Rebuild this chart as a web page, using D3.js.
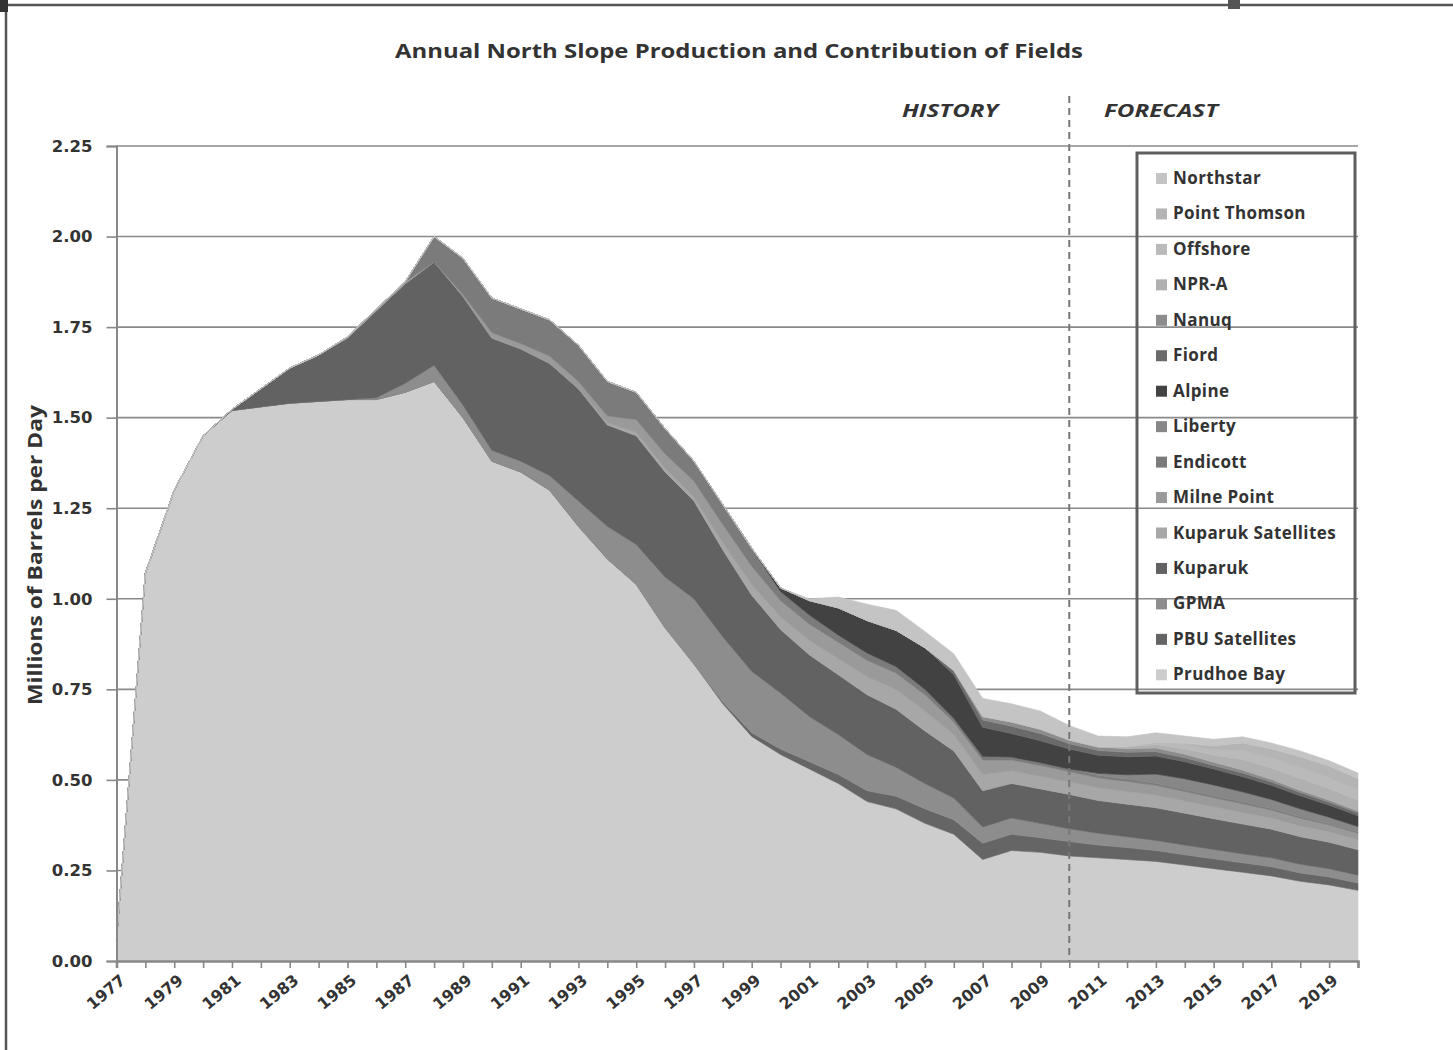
<!DOCTYPE html>
<html>
<head>
<meta charset="utf-8">
<script src="https://cdn.jsdelivr.net/npm/d3@7"></script>
<style>
  html, body { margin: 0; padding: 0; background: #fff; }
  svg { display: block; }
</style>
</head>
<body>
<svg id="chart" width="1453" height="1050"></svg>
<script>
// ---------------- DATA ----------------
const years = d3.range(1977, 2021);

const yTicks = [0, 0.25, 0.5, 0.75, 1.0, 1.25, 1.5, 1.75, 2.0, 2.25];

// series, bottom of stack first (values in millions of barrels per day)
const prudhoeBay = [0.06,1.07,1.30,1.45,1.52,1.53,1.54,1.545,1.55,1.55,1.57,1.60,1.50,1.38,1.35,1.30,1.20,1.11,1.04,0.92,0.82,0.71,0.62,0.57,0.53,0.49,0.44,0.42,0.38,0.35,0.28,0.305,0.30,0.29,0.285,0.28,0.275,0.265,0.255,0.245,0.235,0.22,0.21,0.195];
const pbuSatellites = [0,0,0,0,0,0,0,0,0,0,0,0,0,0,0,0,0,0,0,0,0,0.005,0.01,0.015,0.02,0.025,0.03,0.035,0.04,0.04,0.045,0.045,0.04,0.04,0.035,0.033,0.03,0.028,0.027,0.026,0.025,0.023,0.022,0.02];
const gpma = [0,0,0,0,0,0,0,0,0,0.005,0.025,0.045,0.035,0.03,0.03,0.04,0.07,0.09,0.11,0.14,0.18,0.18,0.17,0.155,0.125,0.11,0.10,0.08,0.07,0.06,0.045,0.045,0.04,0.035,0.033,0.03,0.028,0.027,0.026,0.025,0.025,0.024,0.023,0.022];
const kuparuk = [0,0,0,0,0.003,0.05,0.097,0.128,0.17,0.24,0.275,0.285,0.30,0.31,0.31,0.31,0.31,0.28,0.30,0.29,0.27,0.24,0.21,0.175,0.17,0.165,0.165,0.16,0.145,0.13,0.10,0.095,0.095,0.095,0.09,0.09,0.09,0.088,0.085,0.082,0.079,0.076,0.073,0.07];
const kuparukSatellites = [0,0,0,0,0,0,0,0,0,0,0,0,0,0,0,0,0,0.005,0.01,0.01,0.01,0.02,0.03,0.035,0.04,0.045,0.05,0.055,0.055,0.045,0.045,0.035,0.035,0.035,0.035,0.035,0.035,0.034,0.033,0.032,0.031,0.03,0.029,0.028];
const milnePoint = [0,0,0,0,0,0,0,0,0.003,0.005,0.005,0,0.005,0.015,0.015,0.02,0.02,0.02,0.035,0.04,0.045,0.05,0.05,0.045,0.045,0.045,0.045,0.045,0.045,0.035,0.04,0.03,0.03,0.028,0.028,0.028,0.027,0.026,0.025,0.024,0.022,0.021,0.019,0.018];
const endicott = [0,0,0,0,0,0,0,0,0,0,0,0.07,0.10,0.095,0.095,0.10,0.10,0.095,0.075,0.07,0.055,0.055,0.05,0.025,0.025,0.02,0.02,0.018,0.015,0.01,0.01,0.008,0.008,0.007,0.007,0.006,0.006,0.005,0.005,0.005,0.004,0.004,0.003,0.003];
const liberty = [0,0,0,0,0,0,0,0,0,0,0,0,0,0,0,0,0,0,0,0,0,0,0,0,0,0,0,0,0,0,0,0,0,0,0.005,0.012,0.025,0.03,0.03,0.028,0.025,0.022,0.018,0.015];
const alpine = [0,0,0,0,0,0,0,0,0,0,0,0,0,0,0,0,0,0,0,0,0,0,0,0.01,0.04,0.075,0.09,0.10,0.115,0.12,0.08,0.065,0.06,0.055,0.05,0.05,0.05,0.047,0.044,0.042,0.039,0.036,0.033,0.03];
const fiord = [0,0,0,0,0,0,0,0,0,0,0,0,0,0,0,0,0,0,0,0,0,0,0,0,0,0,0,0,0,0.01,0.02,0.02,0.02,0.015,0.013,0.012,0.012,0.011,0.01,0.01,0.009,0.009,0.008,0.008];
const nanuq = [0,0,0,0,0,0,0,0,0,0,0,0,0,0,0,0,0,0,0,0,0,0,0,0,0,0,0,0,0,0.003,0.01,0.012,0.012,0.01,0.01,0.01,0.01,0.01,0.009,0.008,0.007,0.006,0.006,0.005];
const npra = [0,0,0,0,0,0,0,0,0,0,0,0,0,0,0,0,0,0,0,0,0,0,0,0,0,0,0,0,0,0,0,0,0,0,0,0.005,0.01,0.015,0.02,0.03,0.032,0.033,0.032,0.03];
const offshore = [0,0,0,0,0,0,0,0,0,0,0,0,0,0,0,0,0,0,0,0,0,0,0,0,0,0,0,0,0,0,0,0,0,0,0,0,0.005,0.01,0.015,0.025,0.028,0.03,0.03,0.03];
const pointThomson = [0,0,0,0,0,0,0,0,0,0,0,0,0,0,0,0,0,0,0,0,0,0,0,0,0,0,0,0,0,0,0,0,0,0,0,0,0,0.005,0.01,0.02,0.025,0.03,0.032,0.03];
const northstar = [0,0,0,0,0,0,0,0,0,0,0,0,0,0,0,0,0,0,0,0,0,0,0,0,0.005,0.03,0.045,0.055,0.045,0.045,0.05,0.05,0.05,0.04,0.03,0.028,0.027,0.02,0.018,0.017,0.016,0.016,0.015,0.015];

const seriesNames = ["Prudhoe Bay","PBU Satellites","GPMA","Kuparuk","Kuparuk Satellites","Milne Point","Endicott","Liberty","Alpine","Fiord","Nanuq","NPR-A","Offshore","Point Thomson","Northstar"];
const seriesValues = [prudhoeBay,pbuSatellites,gpma,kuparuk,kuparukSatellites,milnePoint,endicott,liberty,alpine,fiord,nanuq,npra,offshore,pointThomson,northstar];
const seriesColors = ["#cdcdcd","#656565","#8d8d8d","#626262","#a7a7a7","#9a9a9a","#7b7b7b","#878787","#424242","#6a6a6a","#8c8c8c","#b0b0b0","#bababa","#b4b4b4","#c4c4c4"];

const titleText = "Annual North Slope Production and Contribution of Fields";
const yLabelText = "Millions of Barrels per Day";
const historyEndYear = 2010;

// ---------------- CHART ----------------
(function () {
const svg = d3.select("#chart");
svg.append("rect").attr("width", 1453).attr("height", 1050).attr("fill", "#fff");

const plotLeft = 116.5, plotRight = 1358, plotTop = 146, plotBottom = 961;
const x = d3.scaleLinear().domain([1977, 2020]).range([plotLeft, plotRight]);
const y = d3.scaleLinear().domain([0, 2.25]).range([plotBottom, plotTop]);

// frame lines / marks of the scanned page
svg.append("line").attr("x1", 0).attr("x2", 1453).attr("y1", 5).attr("y2", 5)
  .attr("stroke", "#555").attr("stroke-width", 2.5);
svg.append("line").attr("x1", 6).attr("x2", 6).attr("y1", 0).attr("y2", 1050)
  .attr("stroke", "#555").attr("stroke-width", 2.5);
svg.append("rect").attr("x", 0).attr("y", 0).attr("width", 8).attr("height", 12).attr("fill", "#333");
svg.append("rect").attr("x", 1228).attr("y", 0).attr("width", 12).attr("height", 9).attr("fill", "#555");

// gridlines
svg.append("g").selectAll("line").data(yTicks.filter(d => d > 0)).join("line")
  .attr("x1", plotLeft).attr("x2", plotRight)
  .attr("y1", d => y(d)).attr("y2", d => y(d))
  .attr("stroke", "#8a8a8a").attr("stroke-width", 1.6);

// stacked areas
const table = years.map((yr, i) => {
  const row = { year: yr };
  seriesNames.forEach((n, k) => row[n] = seriesValues[k][i]);
  return row;
});
const layers = d3.stack().keys(seriesNames)(table);
const area = d3.area()
  .x(d => x(d.data.year))
  .y0(d => y(d[0]))
  .y1(d => y(d[1]));
svg.append("g").selectAll("path").data(layers).join("path")
  .attr("d", area)
  .attr("fill", (d, i) => seriesColors[i])
  .attr("stroke", (d, i) => seriesColors[i])
  .attr("stroke-width", 0.6);

// y axis
const yAxis = d3.axisLeft(y).tickValues(yTicks).tickFormat(d3.format(".2f")).tickSize(10).tickPadding(14);
const gy = svg.append("g").attr("transform", `translate(${plotLeft},0)`).call(yAxis);
gy.select(".domain").attr("stroke", "#888").attr("stroke-width", 2);
gy.selectAll(".tick line").attr("stroke", "#888").attr("stroke-width", 1.6);
gy.selectAll(".tick text").attr("fill", "#333")
  .style("font-family", "'DejaVu Sans', Verdana, sans-serif")
  .style("font-weight", "bold").style("font-size", "16.5px");

// x axis
const xAxis = d3.axisBottom(x).tickValues(years).tickSize(7).tickFormat("");
const gx = svg.append("g").attr("transform", `translate(0,${plotBottom})`).call(xAxis);
gx.select(".domain").attr("stroke", "#888").attr("stroke-width", 2.5);
gx.selectAll(".tick line").attr("stroke", "#888").attr("stroke-width", 1.6);
svg.append("g").selectAll("text").data(years.filter(d => (d - 1977) % 2 === 0)).join("text")
  .attr("transform", d => `translate(${x(d) + 10},${plotBottom + 21}) rotate(-40)`)
  .attr("text-anchor", "end")
  .attr("fill", "#333")
  .style("font-family", "'DejaVu Sans', Verdana, sans-serif")
  .style("font-weight", "bold").style("font-size", "16px")
  .text(d => d);

// history / forecast divider
svg.append("line").attr("x1", x(historyEndYear)).attr("x2", x(historyEndYear))
  .attr("y1", 96).attr("y2", plotBottom)
  .attr("stroke", "#777").attr("stroke-width", 2).attr("stroke-dasharray", "7,5");
svg.append("text").attr("x", 950).attr("y", 117).attr("text-anchor", "middle")
  .attr("fill", "#333").style("font-family", "'Open Sans', sans-serif")
  .style("font-weight", "bold").style("font-style", "italic").style("font-size", "18px")
  .attr("textLength", 96).attr("lengthAdjust", "spacingAndGlyphs")
  .text("HISTORY");
svg.append("text").attr("x", 1161).attr("y", 117).attr("text-anchor", "middle")
  .attr("fill", "#333").style("font-family", "'Open Sans', sans-serif")
  .style("font-weight", "bold").style("font-style", "italic").style("font-size", "18px")
  .attr("textLength", 114).attr("lengthAdjust", "spacingAndGlyphs")
  .text("FORECAST");

// title
svg.append("text").attr("x", 739).attr("y", 58).attr("text-anchor", "middle")
  .attr("fill", "#333").style("font-family", "'Open Sans', sans-serif")
  .style("font-weight", "bold").style("font-size", "19.5px")
  .attr("textLength", 688).attr("lengthAdjust", "spacingAndGlyphs")
  .text(titleText);

// y label
svg.append("text").attr("transform", "translate(42,555) rotate(-90)")
  .attr("text-anchor", "middle").attr("fill", "#333")
  .style("font-family", "'Open Sans', sans-serif")
  .style("font-weight", "bold").style("font-size", "20px")
  .attr("textLength", 300).attr("lengthAdjust", "spacingAndGlyphs")
  .text(yLabelText);

// legend (top series first)
const legend = svg.append("g");
legend.append("rect").attr("x", 1137).attr("y", 153).attr("width", 218).attr("height", 540)
  .attr("fill", "none").attr("stroke", "#5e5e5e").attr("stroke-width", 3);
const legendItems = seriesNames.map((n, i) => ({ name: n, color: seriesColors[i] })).reverse();
const li = legend.selectAll("g.item").data(legendItems).join("g")
  .attr("class", "item")
  .attr("transform", (d, i) => `translate(1156,${178 + i * 35.45})`);
li.append("rect").attr("x", 0).attr("y", -5).attr("width", 11).attr("height", 11)
  .attr("fill", d => d.color);
li.append("text").attr("x", 17).attr("y", 6)
  .attr("fill", "#333").style("font-family", "'Open Sans', sans-serif")
  .style("font-weight", "bold").style("font-size", "17px").style("letter-spacing", "0.4px")
  .text(d => d.name);
})();
</script>
</body>
</html>
